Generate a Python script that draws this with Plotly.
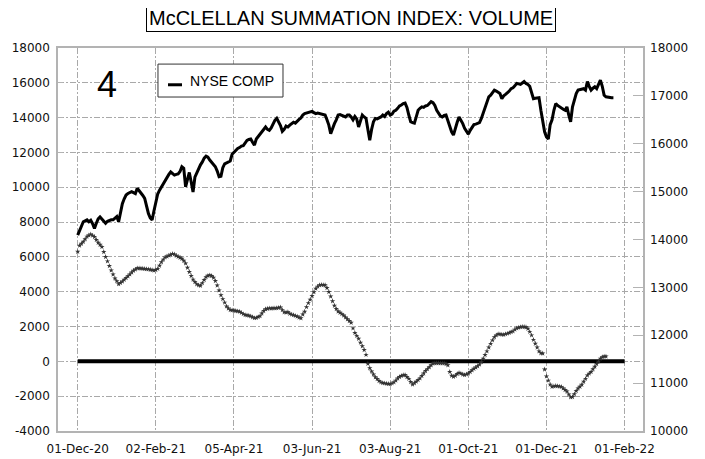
import plotly.graph_objects as go

# ---- data ----
# x axis = trading-day index starting 01-Dec-2020
tick_days = [0, 42, 84, 126, 168, 210, 252, 294]
tick_labels = ["01-Dec-20", "02-Feb-21", "05-Apr-21", "03-Jun-21",
               "03-Aug-21", "01-Oct-21", "01-Dec-21", "01-Feb-22"]

left_ticks = [-4000, -2000, 0, 2000, 4000, 6000, 8000, 10000, 12000, 14000, 16000, 18000]
right_ticks = [10000, 11000, 12000, 13000, 14000, 15000, 16000, 17000, 18000]

summation = [
    6300, 6650, 6760, 6875, 7020, 7170, 7240, 7300, 7230, 7150,
    6980, 6820, 6700, 6580, 6290, 6000, 5750, 5480, 5230, 4990,
    4770, 4610, 4440, 4510, 4590, 4690, 4790, 4890, 5000, 5110,
    5210, 5280, 5350, 5345, 5335, 5330, 5315, 5300, 5290, 5270,
    5245, 5220, 5250, 5320, 5500, 5700, 5850, 5980, 6030, 6080,
    6130, 6180, 6150, 6070, 6010, 5960, 5900, 5780, 5630, 5380,
    5140, 4910, 4700, 4560, 4430, 4370, 4350, 4500, 4680, 4840,
    4920, 4950, 4910, 4810, 4620, 4360, 4080, 3800, 3580, 3380,
    3160, 3040, 2950, 2940, 2925, 2900, 2880, 2860, 2790, 2720,
    2665, 2650, 2630, 2590, 2540, 2490, 2500, 2550, 2600, 2760,
    2900, 3000, 3030, 3050, 3040, 3055, 3050, 3060, 3080, 3100,
    2950, 2820, 2810, 2830, 2740, 2690, 2660, 2620, 2580, 2520,
    2480, 2700, 2860, 3120, 3350, 3550, 3760, 3980, 4180, 4300,
    4380, 4400, 4390, 4380, 4220, 3990, 3730, 3460, 3200, 3010,
    2870, 2800, 2720, 2640, 2530, 2420, 2320, 2220, 1900, 1640,
    1470, 1300, 1080, 870, 660, 380, -130, -390, -580, -750,
    -910, -1010, -1120, -1200, -1240, -1260, -1275, -1290, -1300, -1260,
    -1200, -1100, -980, -890, -830, -790, -780, -890, -1000, -1180,
    -1330, -1250, -1160, -1070, -970, -830, -690, -550, -440, -330,
    -220, -120, -105, -100, -100, -105, -110, -110, -150, -220,
    -600, -820, -880, -820, -720, -660, -700, -750, -780, -740,
    -690, -610, -510, -420, -350, -280, -180, -40, 160, 370,
    580, 800, 1010, 1210, 1390, 1500, 1570, 1560, 1540, 1530,
    1570, 1600, 1640, 1690, 1730, 1830, 1900, 1940, 1970, 1990,
    1980, 1965, 1880, 1700, 1500, 1240, 1020, 800, 580, 470,
    460, -460, -860, -1100, -1330, -1450, -1430, -1410, -1420, -1440,
    -1460, -1550, -1640, -1730, -1900, -2060, -2040, -1880, -1700, -1550,
    -1450, -1340, -1170, -1000, -810, -700, -600, -450, -300, -150,
    -10, 160, 250, 280, 280,
]

nyse_comp = [
    14090, 14180, 14280, 14370, 14390, 14410, 14370, 14400, 14330, 14230,
    14340, 14430, 14470, 14430, 14400, 14340, 14380, 14400, 14410, 14410,
    14450, 14480, 14370, 14550, 14750, 14850, 14930, 14960, 14980, 15000,
    14980, 14960, 15070, 15020, 14990, 14920, 14860, 14700, 14545, 14450,
    14410, 14600, 14820, 14950, 15030, 15100, 15180, 15230, 15300, 15360,
    15410, 15380, 15345, 15360, 15370, 15420, 15520, 15490, 15100, 15250,
    15400, 15200, 14990, 15300, 15400, 15480, 15560, 15620, 15700, 15740,
    15720, 15660, 15620, 15580, 15520, 15430, 15310, 15320, 15500, 15580,
    15600, 15610, 15640, 15780, 15820, 15870, 15900, 15920, 15950, 15960,
    16020, 16070, 16090, 16100, 16030, 15970, 16100, 16150, 16220, 16260,
    16300, 16350, 16300, 16280, 16330, 16420, 16490, 16530, 16460, 16380,
    16260, 16300, 16370, 16350, 16390, 16420, 16450, 16430, 16480, 16510,
    16540, 16600, 16630, 16640, 16660, 16670, 16675, 16650, 16630, 16640,
    16630, 16630, 16610, 16600, 16500, 16390, 16210, 16330, 16420, 16500,
    16600, 16610, 16590, 16570, 16560, 16600, 16600, 16560, 16500, 16570,
    16520, 16350, 16480, 16600, 16560, 16530, 16300, 16075, 16300, 16460,
    16530, 16520, 16540, 16560, 16600, 16570, 16630, 16660, 16600, 16620,
    16680, 16700, 16740, 16790, 16810, 16840, 16850, 16760, 16600, 16460,
    16440, 16430, 16560, 16700, 16740, 16770, 16760, 16790, 16800, 16840,
    16880, 16860, 16800, 16700, 16630, 16580, 16560, 16590, 16600, 16480,
    16350, 16250, 16180, 16350, 16450, 16560, 16500, 16420, 16320, 16250,
    16200, 16280, 16330, 16400, 16410, 16420, 16440, 16530, 16650, 16770,
    16900, 16980, 17015, 17070, 17120, 17100, 17070, 17050, 16940, 17000,
    17030, 17060, 17100, 17150, 17170, 17210, 17260, 17250, 17240, 17270,
    17300, 17260, 17240, 17200, 17080, 16940, 16950, 16960, 16960, 16700,
    16450, 16250, 16140, 16100, 16400, 16500, 16700, 16840, 16800, 16770,
    16750, 16720, 16700, 16770, 16600, 16460, 16770, 16900, 17050, 17120,
    17130, 17150, 17150, 17120, 17300, 17200, 17120, 17160, 17190, 17150,
    17250, 17330, 17200, 17015, 16980, 16970, 16960, 16960, 16960,
]

zero_line_days = [0, 294]
zero_line_vals = [0, 0]

sum_days = list(range(len(summation)))
nyse_days = list(range(len(nyse_comp)))

# ---- figure ----
GRID = "#a9a9a9"
FRAME = "#b3b3b3"
DASH = "6px,2px,2px,2px"

fig = go.Figure()
fig.add_trace(go.Scatter(x=zero_line_days, y=zero_line_vals, mode="lines",
                         line=dict(color="black", width=4), yaxis="y",
                         hoverinfo="skip", showlegend=False))
fig.add_trace(go.Scatter(x=sum_days, y=summation, mode="markers",
                         marker=dict(symbol="star", size=4, color="#333333",
                                     line=dict(width=0)),
                         yaxis="y", name="SUMMATION", showlegend=False))
fig.add_trace(go.Scatter(x=nyse_days, y=nyse_comp, mode="lines",
                         line=dict(color="black", width=3), yaxis="y2",
                         name="NYSE COMP", showlegend=False))

# page body adds an 8px offset, margins compensate for it
fig.update_layout(
    width=705, height=459,
    margin=dict(l=50, r=70, t=40, b=36, autoexpand=False),
    paper_bgcolor="white", plot_bgcolor="white",
    font=dict(family="DejaVu Sans", size=12, color="#111111"),
    showlegend=False,
    xaxis=dict(range=[-10.6, 303.9], tickmode="array", tickvals=tick_days,
               ticktext=tick_labels, showgrid=True, gridcolor=GRID,
               griddash=DASH, gridwidth=1, zeroline=False, showline=True,
               linecolor=FRAME, linewidth=1.5, mirror=True, ticks="",
               ticklabelstandoff=6, automargin=False),
    yaxis=dict(range=[-4000, 18000], tickmode="array", tickvals=left_ticks,
               ticktext=[str(v) for v in left_ticks], showgrid=True,
               gridcolor=GRID, griddash=DASH, gridwidth=1, zeroline=False,
               showline=True, linecolor=FRAME, linewidth=1.5, mirror=True,
               ticks="inside", ticklen=5, tickcolor=FRAME, ticklabelstandoff=4,
               automargin=False),
    yaxis2=dict(range=[10000, 18000], overlaying="y", side="right",
                tickmode="array", tickvals=right_ticks,
                ticktext=[str(v) for v in right_ticks], showgrid=False,
                zeroline=False, showline=False, ticks="inside", ticklen=10,
                tickcolor=FRAME, ticklabelstandoff=6, automargin=False),
)

fig.add_annotation(text="McCLELLAN SUMMATION INDEX: VOLUME", xref="paper",
                   yref="paper", x=0.5, y=1.078, xanchor="center",
                   yanchor="middle", showarrow=False,
                   font=dict(family="Liberation Sans", size=20, color="black"),
                   bordercolor="black", borderwidth=1, borderpad=2,
                   bgcolor="white")
fig.add_annotation(text="4", xref="paper", yref="paper", x=0.0838, y=0.906,
                   xanchor="center", yanchor="middle", showarrow=False,
                   font=dict(family="Liberation Sans", size=36, color="black"))

# legend box
fig.add_shape(type="rect", xref="paper", yref="paper", x0=0.1709, x1=0.3846,
              y0=0.872, y1=0.958, line=dict(color="#333333", width=1),
              fillcolor="white", layer="above")
fig.add_shape(type="line", xref="paper", yref="paper", x0=0.188, x1=0.212,
              y0=0.904, y1=0.904, line=dict(color="black", width=3),
              layer="above")
fig.add_annotation(text="NYSE COMP", xref="paper", yref="paper", x=0.2222,
                   y=0.914, xanchor="left", yanchor="middle", showarrow=False,
                   font=dict(family="Liberation Sans", size=14, color="black"))

fig.write_html("out.html")
